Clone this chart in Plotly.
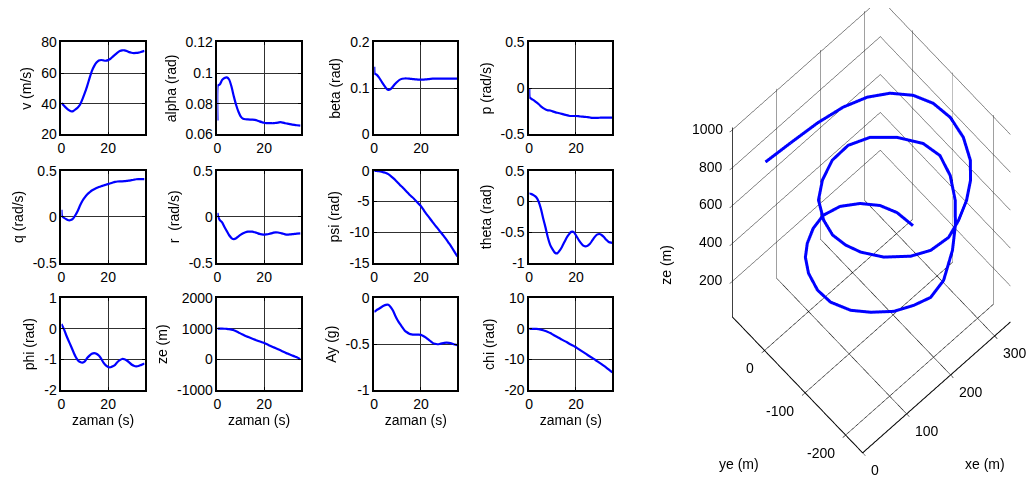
import plotly.graph_objects as go

FONT = "Liberation Sans, Arial, sans-serif"

# ---------------- time series ----------------
t = [0, 0.2, 1, 2, 3, 4, 5, 6, 7, 8, 9, 10, 11, 12, 13, 14, 15, 16, 17, 18, 19,
     20, 21, 22, 23, 24, 25, 26, 27, 28, 29, 30, 31, 32, 33, 34, 35.6]

v = [40.3, 40.1, 38.8, 37.3, 36.0, 35.1, 35.2, 36.3, 37.6, 39.5, 43.0, 47.0, 51.5,
     56.5, 61.2, 64.5, 66.8, 68.1, 68.5, 68.2, 68.0, 68.4, 69.3, 70.7, 72.0, 73.3,
     74.3, 74.8, 74.8, 74.3, 73.6, 73.2, 73.0, 73.1, 73.3, 73.7, 74.4]
alpha = [0.069, 0.092, 0.0925, 0.0955, 0.0968, 0.0972, 0.0958, 0.0912, 0.0848,
         0.0792, 0.0748, 0.0716, 0.0702, 0.0699, 0.0698, 0.0697, 0.0697, 0.0695,
         0.0691, 0.0685, 0.068, 0.0676, 0.0674, 0.0673, 0.0673, 0.0673, 0.0675,
         0.0677, 0.068, 0.0677, 0.0673, 0.067, 0.0667, 0.0664, 0.0662, 0.066, 0.0657]
beta = [0.147, 0.132, 0.130, 0.124, 0.116, 0.108, 0.101, 0.0965, 0.0985, 0.104,
        0.110, 0.115, 0.119, 0.121, 0.1215, 0.1215, 0.121, 0.1205, 0.12, 0.1195,
        0.119, 0.119, 0.119, 0.1195, 0.12, 0.1205, 0.121, 0.121, 0.121, 0.121,
        0.121, 0.121, 0.121, 0.121, 0.121, 0.121, 0.121]
p = [0.0, -0.1, -0.115, -0.13, -0.15, -0.17, -0.195, -0.215, -0.23, -0.238, -0.24,
     -0.25, -0.258, -0.265, -0.27, -0.277, -0.285, -0.29, -0.297, -0.3, -0.3, -0.3,
     -0.302, -0.305, -0.307, -0.31, -0.312, -0.316, -0.32, -0.32, -0.32, -0.319,
     -0.318, -0.318, -0.318, -0.318, -0.318]
q = [0.077, 0.01, -0.01, -0.025, -0.037, -0.035, -0.018, 0.02, 0.067, 0.125, 0.175,
     0.212, 0.242, 0.265, 0.286, 0.3, 0.312, 0.323, 0.332, 0.34, 0.348, 0.356,
     0.364, 0.373, 0.38, 0.384, 0.386, 0.386, 0.387, 0.39, 0.394, 0.398, 0.403,
     0.408, 0.41, 0.41, 0.41]
r = [0.042, 0.01, -0.035, -0.06, -0.11, -0.155, -0.2, -0.23, -0.242, -0.232,
     -0.212, -0.193, -0.179, -0.168, -0.161, -0.16, -0.161, -0.168, -0.176, -0.185,
     -0.19, -0.193, -0.19, -0.186, -0.18, -0.172, -0.168, -0.17, -0.176, -0.183,
     -0.19, -0.193, -0.191, -0.188, -0.186, -0.183, -0.179]
psi = [0, 0, -0.03, -0.08, -0.15, -0.25, -0.36, -0.55, -0.82, -1.15, -1.5, -1.9,
       -2.3, -2.65, -3.05, -3.45, -3.85, -4.2, -4.55, -4.95, -5.35, -5.75, -6.3,
       -6.85, -7.35, -7.85, -8.35, -8.85, -9.3, -9.8, -10.25, -10.75, -11.25, -11.8,
       -12.35, -12.95, -13.95]
theta = [0.13, 0.13, 0.12, 0.1, 0.07, 0.0, -0.12, -0.28, -0.43, -0.59, -0.71, -0.78,
         -0.835, -0.845, -0.8, -0.74, -0.665, -0.59, -0.535, -0.495, -0.495, -0.55,
         -0.615, -0.67, -0.715, -0.73, -0.72, -0.69, -0.635, -0.58, -0.54, -0.53,
         -0.545, -0.58, -0.625, -0.66, -0.675]
phi = [0.16, 0.13, 0.0, -0.2, -0.38, -0.55, -0.73, -0.9, -1.02, -1.08, -1.1, -1.06,
       -0.95, -0.87, -0.81, -0.79, -0.81, -0.87, -0.97, -1.1, -1.19, -1.24, -1.25,
       -1.22, -1.17, -1.08, -1.02, -0.98, -0.99, -1.03, -1.09, -1.16, -1.2, -1.22,
       -1.21, -1.18, -1.13]
ze = [1010, 1010, 1010, 1010, 1005, 1000, 990, 975, 955, 925, 885, 845, 810, 770,
      740, 710, 680, 650, 620, 595, 565, 540, 505, 470, 435, 400, 370, 335, 300,
      265, 230, 195, 165, 135, 105, 75, 10]
ay = [-0.147, -0.145, -0.13, -0.115, -0.098, -0.083, -0.072, -0.072, -0.095,
      -0.133, -0.19, -0.24, -0.28, -0.315, -0.35, -0.37, -0.385, -0.393, -0.396,
      -0.396, -0.396, -0.398, -0.41, -0.425, -0.445, -0.465, -0.485, -0.495, -0.5,
      -0.497, -0.49, -0.485, -0.483, -0.485, -0.49, -0.5, -0.51]
chi = [0, 0, 0, 0, -0.02, -0.1, -0.25, -0.45, -0.7, -1.0, -1.35, -1.8, -2.25,
       -2.65, -3.05, -3.5, -3.9, -4.3, -4.75, -5.15, -5.55, -6.0, -6.5, -7.0, -7.5,
       -8.0, -8.5, -9.0, -9.45, -9.95, -10.5, -11.0, -11.5, -12.05, -12.6, -13.2,
       -14.2]

# ---------------- 3D trajectory ----------------
xe3 = [0, 53.5, 111.0, 163.4, 207.9, 246.0, 276.1, 296.4, 307.0, 305.8, 293.2,
       275.2, 253.0, 225.1, 196.9, 163.6, 135.4, 105.2, 86.1, 79.2, 78.3, 88.9,
       109.7, 141.3, 181.0, 222.1, 261.7, 297.5, 325.4, 335.0, 328.0, 310.2, 286.3,
       258.9, 217.7, 185.8, 160.1, 133.2, 108.5, 91.7, 82.1, 85.6, 99.9, 120.2,
       143.7, 173.3, 205.5, 241.5, 274.9, 302.9, 320.9, 329.7]
ye3 = [-2.1, -6.1, -10.1, -17.1, -27.8, -43.0, -67.2, -94.6, -125.0, -158.6,
       -189.7, -209.4, -223.7, -234.4, -240.6, -232.5, -213.7, -180.0, -143.9,
       -114.3, -83.0, -49.2, -14.0, 10.7, 29.4, 34.8, 23.6, -4.2, -38.0, -69.2,
       -102.1, -133.8, -160.0, -182.6, -205.4, -208.1, -194.1, -174.1, -144.0,
       -112.9, -73.9, -37.9, 0.0, 29.7, 50.5, 68.0, 78.4, 75.8, 62.7, 43.9, 21.5,
       -8.5]
ze3 = [1010, 1010, 1006, 998, 982.5, 959, 940, 917, 889, 861, 834.5, 810, 782,
       758, 740, 722, 707, 689, 674, 659, 644, 626, 610, 595, 577, 559, 545, 533,
       519, 505, 487.5, 463, 438.5, 414, 391, 373, 352.5, 331.5, 310.5, 286, 261.5,
       237, 212.5, 189, 168, 147, 126, 105, 81, 54.6, 30.3, 10]

X3_RANGE = [0, 336]
Y3_RANGE = [-242, 79]
Z3_RANGE = [10, 1010]
x3_ticks = [0, 100, 200, 300]
y3_ticks = [-200, -100, 0]
z3_ticks = [200, 400, 600, 800, 1000]

x_ticks = [0, 20]
panels = [
    ("v (m/s)", v, [20, 80], [20, 40, 60, 80], ["20", "40", "60", "80"]),
    ("alpha (rad)", alpha, [0.06, 0.12], [0.06, 0.08, 0.1, 0.12], ["0.06", "0.08", "0.1", "0.12"]),
    ("beta (rad)", beta, [0, 0.2], [0, 0.1, 0.2], ["0", "0.1", "0.2"]),
    ("p (rad/s)", p, [-0.5, 0.5], [-0.5, 0, 0.5], ["-0.5", "0", "0.5"]),
    ("q (rad/s)", q, [-0.5, 0.5], [-0.5, 0, 0.5], ["-0.5", "0", "0.5"]),
    ("r  (rad/s)", r, [-0.5, 0.5], [-0.5, 0, 0.5], ["-0.5", "0", "0.5"]),
    ("psi (rad)", psi, [-15, 0], [-15, -10, -5, 0], ["-15", "-10", "-5", "0"]),
    ("theta (rad)", theta, [-1, 0.5], [-1, -0.5, 0, 0.5], ["-1", "-0.5", "0", "0.5"]),
    ("phi (rad)", phi, [-2, 1], [-2, -1, 0, 1], ["-2", "-1", "0", "1"]),
    ("ze (m)", ze, [-1000, 2000], [-1000, 0, 1000, 2000], ["-1000", "0", "1000", "2000"]),
    ("Ay (g)", ay, [-1, 0], [-1, -0.5, 0], ["-1", "-0.5", "0"]),
    ("chi (rad)", chi, [-20, 10], [-20, -10, 0, 10], ["-20", "-10", "0", "10"]),
]

W, H = 1035, 489
col_left = [57.7, 214.3, 371.7, 527.3]
col_w = 83.4
row_top = [35.5, 168.3, 300.0]
row_h = 95.2

fig = go.Figure()
layout = dict(
    width=W, height=H, margin=dict(l=0, r=0, t=0, b=0),
    paper_bgcolor="white", plot_bgcolor="white", showlegend=False,
    font=dict(family=FONT, size=14, color="black"),
)

for i, (label, vals, yr, yt, ytt) in enumerate(panels):
    row, col = divmod(i, 4)
    n = "" if i == 0 else str(i + 1)
    x0 = col_left[col] / W
    x1 = (col_left[col] + col_w) / W
    y1 = 1 - row_top[row] / H
    y0 = 1 - (row_top[row] + row_h) / H
    fig.add_trace(go.Scatter(x=t, y=vals, mode="lines", xaxis="x" + n, yaxis="y" + n,
                             line=dict(color="#0000ff", width=2.2, shape="spline", smoothing=0.5),
                             hoverinfo="skip"))
    common = dict(showline=True, linecolor="black", linewidth=1.7, mirror="ticks",
                  ticks="inside", ticklen=3, tickcolor="black",
                  showgrid=True, gridcolor="#303030", gridwidth=1, zeroline=False,
                  tickfont=dict(size=14, color="black", family=FONT))
    layout["xaxis" + n] = dict(domain=[x0, x1], anchor="y" + n, range=[0, 35.6],
                               tickvals=x_ticks, ticktext=["0", "20"],
                               title=dict(text="zaman (s)" if row == 2 else "",
                                          standoff=4, font=dict(size=14)),
                               **common)
    layout["yaxis" + n] = dict(domain=[y0, y1], anchor="x" + n, range=yr,
                               tickvals=yt, ticktext=ytt,
                               title=dict(text=label, standoff=6, font=dict(size=14)),
                               **common)

fig.add_trace(go.Scatter3d(x=xe3, y=ye3, z=ze3, mode="lines",
                           line=dict(color="#0000ff", width=6), hoverinfo="skip"))

ax3 = dict(showbackground=False, showgrid=True, gridcolor="black", gridwidth=1,
           zeroline=False, showline=True, linecolor="black", linewidth=2,
           ticks="outside", tickcolor="black", ticklen=4, showspikes=False,
           showticklabels=False, title=dict(text=""))

# camera: view direction, box scale (orthographic zoom) and vertical offset
view_dir = (-0.187, -0.203, 0.961)
up_s = (0.6506, 0.7073, 0.276)
box_scale = 2.9
d = 4.0
k = 0.083
cen = tuple(-k * u for u in up_s)
eye = tuple(c + d * v_ for c, v_ in zip(cen, view_dir))

# 3D tick labels as scene annotations (placed through the scene projection)
scene_ann = []
for zt in z3_ticks:
    scene_ann.append(dict(x=X3_RANGE[0], y=Y3_RANGE[1], z=zt, text=str(zt), showarrow=False,
                          xanchor="right", yanchor="middle", xshift=-8, yshift=1,
                          font=dict(size=14, color="black", family=FONT)))
for yt_ in y3_ticks:
    scene_ann.append(dict(x=X3_RANGE[0], y=yt_, z=Z3_RANGE[0], text=str(yt_), showarrow=False,
                          xanchor="right", yanchor="middle", xshift=-9, yshift=-18,
                          font=dict(size=14, color="black", family=FONT)))
for xt_ in x3_ticks:
    scene_ann.append(dict(x=xt_, y=Y3_RANGE[0], z=Z3_RANGE[0], text=str(xt_), showarrow=False,
                          xanchor="left", yanchor="middle", xshift=6, yshift=-17,
                          font=dict(size=14, color="black", family=FONT)))

layout["scene"] = dict(
    domain=dict(x=[707 / W, 1.0], y=[0.0, 1.0]),
    bgcolor="white",
    xaxis=dict(range=X3_RANGE, tickvals=x3_ticks, **ax3),
    yaxis=dict(range=Y3_RANGE, tickvals=y3_ticks, **ax3),
    zaxis=dict(range=Z3_RANGE, tickvals=z3_ticks, **ax3),
    aspectmode="manual",
    aspectratio=dict(x=0.293 * box_scale, y=0.28 * box_scale, z=1.0 * box_scale),
    camera=dict(projection=dict(type="orthographic"),
                eye=dict(x=eye[0], y=eye[1], z=eye[2]),
                up=dict(x=0, y=0, z=1),
                center=dict(x=cen[0], y=cen[1], z=cen[2])),
    annotations=scene_ann,
)
layout["annotations"] = [
    dict(text="ze (m)", x=665 / W, y=1 - 265 / H, xref="paper", yref="paper",
         xanchor="center", yanchor="middle",
         showarrow=False, textangle=-90, font=dict(size=14)),
    dict(text="ye (m)", x=738 / W, y=1 - 471 / H, xref="paper", yref="paper",
         xanchor="center", yanchor="middle", showarrow=False, font=dict(size=14)),
    dict(text="xe (m)", x=985 / W, y=1 - 471 / H, xref="paper", yref="paper",
         xanchor="center", yanchor="middle", showarrow=False, font=dict(size=14)),
]
fig.update_layout(**layout)
fig.write_html("out.html")
